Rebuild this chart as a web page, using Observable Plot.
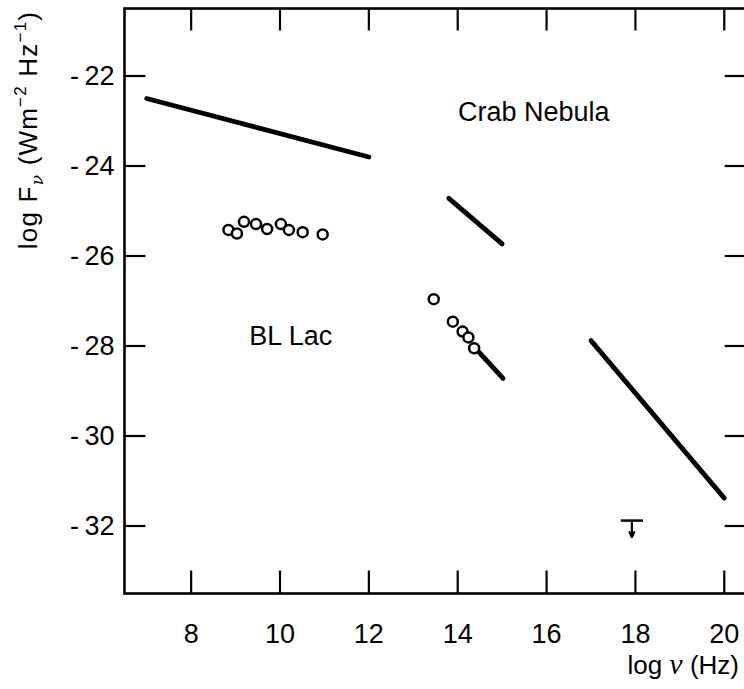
<!DOCTYPE html>
<html><head><meta charset="utf-8">
<script src="https://cdn.jsdelivr.net/npm/d3@7"></script>
<script src="https://cdn.jsdelivr.net/npm/@observablehq/plot@0.6"></script>
<style>
html,body{margin:0;padding:0;background:#fff;overflow:hidden;}
#chart{position:relative;width:744px;height:689px;overflow:hidden;}
#chart svg{max-width:none !important;}
</style></head><body><div id="chart"></div>
<script>
// tick values
const xTicks = [8, 10, 12, 14, 16, 18, 20];
const yTicks = [-22, -24, -26, -28, -30, -32];
// Crab Nebula spectrum segments [log nu, log F]
const crabRadio = [[7.0, -22.5], [12.0, -23.8]];
const crabOptical = [[13.8, -24.72], [15.0, -25.73]];
const crabXray = [[17.0, -27.88], [20.0, -31.38]];
// BL Lac optical continuum segment
const blLacOpticalLine = [[14.37, -28.02], [15.02, -28.72]];
// BL Lac radio points
const blLacRadioNu = [8.84, 9.03, 9.19, 9.46, 9.71, 10.02, 10.20, 10.51, 10.96];
const blLacRadioF = [-25.42, -25.50, -25.24, -25.29, -25.40, -25.29, -25.42, -25.47, -25.52];
// BL Lac optical/IR points
const blLacOptNu = [13.46, 13.89, 14.11, 14.24, 14.37];
const blLacOptF = [-26.96, -27.46, -27.68, -27.81, -28.05];
// BL Lac X-ray upper limit
const limitNu = [17.92];
const limitF = [-31.88];
const limitTip = [-32.25];
// annotations
const labelText = ["Crab Nebula", "BL Lac"];
const labelNu = [15.71, 10.24];
const labelF = [-22.8, -27.78];

const xDomain = [6.5, 20.5];
const yDomain = [-33.5, -20.5];

const segments = [crabRadio, crabOptical, crabXray, blLacOpticalLine]
  .flatMap((seg, i) => seg.map(([x, y]) => ({seg: i, x, y})));
const radioPts = blLacRadioNu.map((x, i) => ({x, y: blLacRadioF[i]}));
const optPts = blLacOptNu.map((x, i) => ({x, y: blLacOptF[i]}));
const limits = limitNu.map((x, i) => ({x, y: limitF[i], tip: limitTip[i]}));
const labels = labelText.map((t, i) => ({t, x: labelNu[i], y: labelF[i]}));

const FONT = "'Liberation Sans', Arial, Helvetica, sans-serif";
const tx = 0.48, ty = 0.5; // inward tick length in data units

const plot = Plot.plot({
  width: 750, height: 689,
  marginLeft: 124, marginRight: 4, marginTop: 8, marginBottom: 96,
  style: {fontFamily: FONT, fontSize: "27px", background: "white", color: "black", overflow: "visible", maxWidth: "none"},
  x: {domain: xDomain},
  y: {domain: yDomain},
  marks: [
    // inward ticks: bottom/top
    Plot.ruleX(xTicks, {x: d => d, y1: yDomain[0], y2: yDomain[0] + ty, strokeWidth: 2.2}),
    Plot.ruleX(xTicks, {x: d => d, y1: yDomain[1] - ty, y2: yDomain[1], strokeWidth: 2.2}),
    // inward ticks: left/right
    Plot.ruleY(yTicks, {y: d => d, x1: xDomain[0], x2: xDomain[0] + tx, strokeWidth: 2.2}),
    Plot.ruleY(yTicks, {y: d => d, x1: xDomain[1] - tx, x2: xDomain[1], strokeWidth: 2.2}),
    Plot.frame({stroke: "black", strokeWidth: 2.6}),
    Plot.axisX(xTicks, {anchor: "bottom", tickSize: 0, tickPadding: 30, label: null, fontSize: 27, tickFormat: d => String(d)}),
    Plot.axisY(yTicks, {anchor: "left", tickSize: 0, tickPadding: 10, label: null, fontSize: 27, tickFormat: d => "-\u2009" + Math.abs(d)}),
    Plot.line(segments, {x: "x", y: "y", z: "seg", stroke: "black", strokeWidth: 4.8, strokeLinecap: "round"}),
    Plot.dot(radioPts, {x: "x", y: "y", r: 5, stroke: "black", strokeWidth: 2.5, fill: "white"}),
    Plot.dot(optPts, {x: "x", y: "y", r: 5, stroke: "black", strokeWidth: 2.5, fill: "white"}),
    Plot.link(limits, {x1: d => d.x - 0.25, x2: d => d.x + 0.25, y1: "y", y2: "y", stroke: "black", strokeWidth: 2.5}),
    Plot.arrow(limits, {x1: "x", x2: "x", y1: "y", y2: "tip", stroke: "black", strokeWidth: 2.2, headLength: 6, headAngle: 50}),
    Plot.text(labels, {x: "x", y: "y", text: "t", fontSize: 27, fill: "black", fontFamily: FONT, style: "letter-spacing:0.8px"})
  ]
});

const svg = d3.select(plot);
// y axis title (rotated)
const yt = svg.append("text")
  .attr("transform", "translate(37,130) rotate(-90)")
  .attr("text-anchor", "middle")
  .attr("font-family", FONT).attr("font-size", 26).attr("letter-spacing", "1.2px").attr("fill", "black");
yt.append("tspan").text("log F");
yt.append("tspan").attr("font-family", "'DejaVu Serif', serif").attr("font-style", "italic").attr("font-size", 17).attr("dy", 6).text("\u03bd");
yt.append("tspan").attr("dy", -6).text(" (Wm");
yt.append("tspan").attr("font-size", 17).attr("dy", -11).text("\u22122");
yt.append("tspan").attr("dy", 11).text(" Hz");
yt.append("tspan").attr("font-size", 17).attr("dy", -11).text("\u22121");
yt.append("tspan").attr("dy", 11).text(")");
// x axis title
const xtl = svg.append("text")
  .attr("x", 739).attr("y", 674)
  .attr("text-anchor", "end")
  .attr("font-family", FONT).attr("font-size", 26).attr("fill", "black");
xtl.append("tspan").text("log ");
xtl.append("tspan").attr("font-family", "'Liberation Serif', 'DejaVu Serif', serif").attr("font-style", "italic").attr("font-size", 30).text("\u03bd");
xtl.append("tspan").text(" (Hz)");

document.getElementById("chart").appendChild(plot);
</script>
</body></html>
